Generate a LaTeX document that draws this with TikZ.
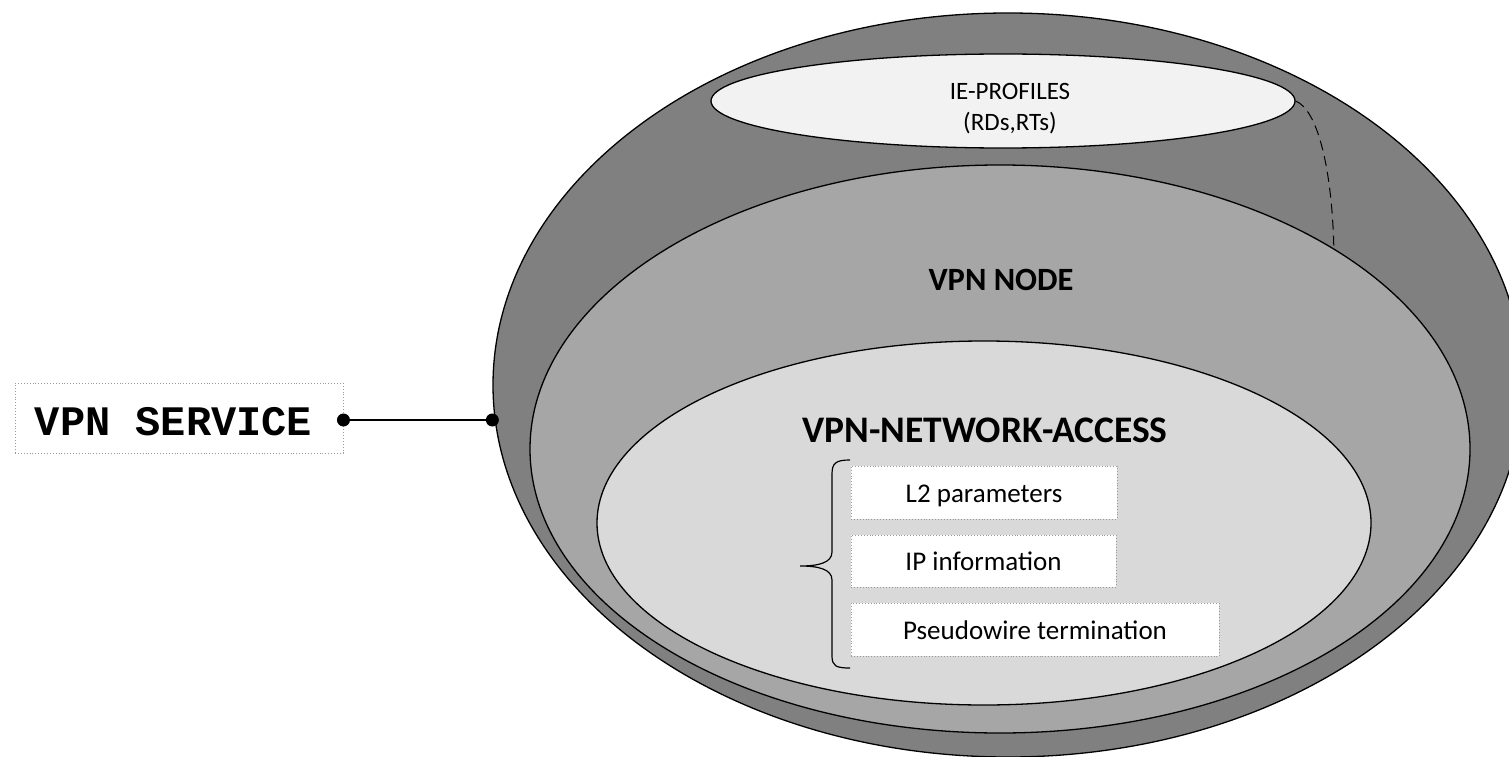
\documentclass[tikz,border=0pt]{standalone}
\usepackage{fontspec}
\setmainfont{Carlito}
\newfontfamily\monobold{Liberation Mono}[BoldFont={Liberation Mono Bold}]
\usetikzlibrary{shapes.geometric}

\definecolor{ringdark}{HTML}{808080}
\definecolor{ringmid}{HTML}{A6A6A6}
\definecolor{ringlight}{HTML}{D9D9D9}
\definecolor{profilefill}{HTML}{F2F2F2}
\definecolor{dotgray}{HTML}{9A9A9A}

\tikzset{
  layer/.style={ellipse, draw=black, line width=1.3pt, inner sep=0pt},
  infobox/.style={draw=dotgray, dotted, line width=0.9pt, fill=white,
                  inner sep=0pt, text height=19pt, text depth=0pt,
                  font=\fontsize{27}{30}\selectfont},
  endpoint/.style={circle, fill=black, inner sep=0pt, minimum size=13pt},
  title/.style={font=\bfseries\fontsize{32.5}{36}\selectfont, anchor=base},
  smalltext/.style={font=\fontsize{25}{28}\selectfont, anchor=base},
}

\begin{document}
\begin{tikzpicture}[x=1pt, y=-1pt]
\useasboundingbox (0,0) rectangle (1509,757);

% nested layers
\node[layer, fill=ringdark, minimum width=1030pt, minimum height=744pt] (outer) at (1008,385) {};
\node[layer, fill=profilefill, minimum width=584pt, minimum height=94pt] (prof) at (1003,101) {};
\node[layer, fill=ringmid, minimum width=940pt, minimum height=568pt] (vnode) at (1000,449) {};
\node[layer, fill=ringlight, minimum width=774pt, minimum height=364pt] (access) at (984,523) {};

% profile reference
\draw[line width=1pt, dash pattern=on 10pt off 6pt]
  (prof.east) .. controls (1318,110) and (1332,170) .. (vnode.31);

% labels
\node[smalltext] (proftxt) at (1010,100) {IE-PROFILES};
\node[smalltext] (proftxt2) at (1010,131) {(RDs,RTs)};
\node[title] (nodetxt) at (1001,290) {VPN NODE};
\node[title, font=\bfseries\fontsize{37.5}{40}\selectfont] (accesstxt) at (985,442) {VPN-NETWORK-ACCESS};

% access parameters
\node[infobox, minimum width=266pt, minimum height=53pt] (l2) at (984,492.5) {L2 parameters};
\node[infobox, minimum width=265pt, minimum height=52pt] (ip) at (983.5,561) {IP information};
\node[infobox, minimum width=368pt, minimum height=53pt] (pw) at (1035,629.5) {Pseudowire termination};

% brace grouping the parameters
\draw[line width=1.2pt]
  (850,460) .. controls (836,460) and (832,463) .. (832,474)
  -- (832,552) .. controls (832,563) and (818,566) .. (800,566)
  .. controls (818,566) and (832,569) .. (832,580)
  -- (832,656) .. controls (832,666) and (836,668) .. (850,668);

% service
\node[draw=dotgray, dotted, line width=0.9pt, minimum width=328pt, minimum height=70pt,
      inner sep=0pt] (svc) at (179,418) {};
\node[anchor=base, font=\monobold\bfseries\fontsize{42}{44}\selectfont] (svctxt) at (173.5,435) {VPN SERVICE};
\coordinate (svcpin) at (svc.east |- 0,420);
\coordinate (outerpin) at (outer.west |- 0,420);
\draw[line width=1.4pt] (svcpin) -- (outerpin);
\node[endpoint] at (svcpin) {};
\node[endpoint] at (outerpin) {};
\end{tikzpicture}
\end{document}
